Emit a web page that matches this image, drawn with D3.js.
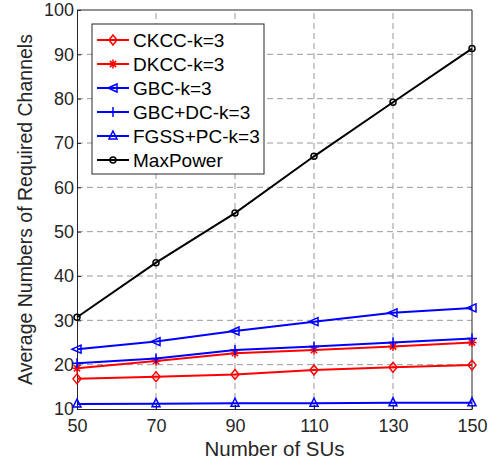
<!DOCTYPE html>
<meta charset="utf-8">
<script src="https://d3js.org/d3.v7.min.js"></script>
<style>
  body { margin: 0; background: #fff; }
  svg { font-family: "Liberation Sans", Arial, sans-serif; }
</style>
<div id="chart"></div>
<script>
    const width = 494;
    const height = 466;
    const marginTop = 10;
    const marginRight = 22;
    const marginBottom = 57;
    const marginLeft = 77;

    // data
    const suCounts = [50, 70, 90, 110, 130, 150];
    const ckcc = [16.8, 17.3, 17.8, 18.8, 19.4, 19.9];
    const dkcc = [19.2, 20.8, 22.6, 23.3, 24.1, 25.0];
    const gbc = [23.5, 25.2, 27.6, 29.7, 31.7, 32.8];
    const gbcDc = [20.3, 21.4, 23.3, 24.1, 25.0, 25.9];
    const fgssPc = [11.1, 11.2, 11.3, 11.3, 11.4, 11.4];
    const maxPower = [30.7, 43.0, 54.2, 67.0, 79.2, 91.3];
    const xTicks = [50, 70, 90, 110, 130, 150];
    const yTicks = [10, 20, 30, 40, 50, 60, 70, 80, 90, 100];

    const series = [
        { name: "CKCC-k=3", values: ckcc, color: "#ff0000", marker: "diamond" },
        { name: "DKCC-k=3", values: dkcc, color: "#ff0000", marker: "asterisk" },
        { name: "GBC-k=3", values: gbc, color: "#0000ff", marker: "triLeft" },
        { name: "GBC+DC-k=3", values: gbcDc, color: "#0000ff", marker: "plus" },
        { name: "FGSS+PC-k=3", values: fgssPc, color: "#0000ff", marker: "triUp" },
        { name: "MaxPower", values: maxPower, color: "#000000", marker: "circle" }
    ];

    const svg = d3.select("#chart")
        .append("svg")
        .attr("width", width)
        .attr("height", height);

    const x = d3.scaleLinear()
        .domain([50, 150])
        .range([marginLeft, width - marginRight]);

    const y = d3.scaleLinear()
        .domain([10, 100])
        .range([height - marginBottom, marginTop]);

    // grid
    const grid = svg.append("g")
        .attr("stroke", "#999999")
        .attr("stroke-width", 1)
        .attr("stroke-dasharray", "6,4");
    grid.selectAll("line.gx")
        .data(xTicks.slice(1, -1))
        .join("line")
        .attr("x1", d => x(d)).attr("x2", d => x(d))
        .attr("y1", y(10)).attr("y2", y(100));
    grid.selectAll("line.gy")
        .data(yTicks.slice(1, -1))
        .join("line")
        .attr("class", "gy")
        .attr("x1", x(50)).attr("x2", x(150))
        .attr("y1", d => y(d)).attr("y2", d => y(d));

    // axes
    const tickColor = "#262626";
    svg.append("g")
        .attr("transform", `translate(0,${y(10)})`)
        .call(d3.axisBottom(x).tickValues(xTicks).tickSizeInner(-4).tickSizeOuter(0).tickPadding(10))
        .call(g => g.selectAll("text").attr("font-size", 18).attr("fill", tickColor).attr("font-family", null))
        .call(g => g.selectAll("line, path").attr("stroke", tickColor));

    svg.append("g")
        .attr("transform", `translate(${x(50)},0)`)
        .call(d3.axisLeft(y).tickValues(yTicks).tickSizeInner(-4).tickSizeOuter(0).tickPadding(3))
        .call(g => g.selectAll("text").attr("font-size", 18).attr("fill", tickColor).attr("font-family", null))
        .call(g => g.selectAll("line, path").attr("stroke", tickColor));

    // top and right box
    svg.append("path")
        .attr("fill", "none")
        .attr("stroke", tickColor)
        .attr("d", `M${x(50)},${y(100)}H${x(150)}V${y(10)}`);

    // axis titles
    svg.append("text")
        .attr("x", (x(50) + x(150)) / 2)
        .attr("y", height - 10)
        .attr("text-anchor", "middle")
        .attr("font-size", 20.5)
        .attr("fill", tickColor)
        .text("Number of SUs");

    svg.append("text")
        .attr("transform", `translate(32,${(y(10) + y(100)) / 2}) rotate(-90)`)
        .attr("text-anchor", "middle")
        .attr("font-size", 19.5)
        .attr("fill", tickColor)
        .text("Average Numbers of Required Channels");

    function drawMarker(g, type, color) {
        const s = 4;
        if (type === "circle") {
            g.append("circle").attr("r", 3).attr("fill", "none").attr("stroke", color).attr("stroke-width", 1.5);
        } else if (type === "diamond") {
            g.append("path").attr("d", `M0,${-s - 1}L${s},0L0,${s + 1}L${-s},0Z`)
                .attr("fill", "none").attr("stroke", color).attr("stroke-width", 1.5);
        } else if (type === "triLeft") {
            g.append("path").attr("d", `M${-s - 1},0L${s},${-s}L${s},${s}Z`)
                .attr("fill", "none").attr("stroke", color).attr("stroke-width", 1.5);
        } else if (type === "triUp") {
            g.append("path").attr("d", `M0,${-s - 1}L${s},${s - 1}L${-s},${s - 1}Z`)
                .attr("fill", "none").attr("stroke", color).attr("stroke-width", 1.5);
        } else if (type === "plus") {
            g.append("path").attr("d", `M${-s - 1},0H${s + 1}M0,${-s - 1}V${s + 1}`)
                .attr("stroke", color).attr("stroke-width", 1.5);
        } else if (type === "asterisk") {
            const r = s + 0.5, q = r * 0.7;
            g.append("path").attr("d", `M${-r},0H${r}M0,${-r}V${r}M${-q},${-q}L${q},${q}M${-q},${q}L${q},${-q}`)
                .attr("stroke", color).attr("stroke-width", 1.5);
        }
    }

    const line = d3.line()
        .x((d, i) => x(suCounts[i]))
        .y(d => y(d));

    series.forEach(s => {
        svg.append("path")
            .datum(s.values)
            .attr("fill", "none")
            .attr("stroke", s.color)
            .attr("stroke-width", 2)
            .attr("d", line);
        s.values.forEach((v, i) => {
            const g = svg.append("g").attr("transform", `translate(${x(suCounts[i])},${y(v)})`);
            drawMarker(g, s.marker, s.color);
        });
    });

    // legend
    const legend = svg.append("g").attr("transform", "translate(92,24)");
    legend.append("rect")
        .attr("width", 172)
        .attr("height", 150)
        .attr("fill", "#fff")
        .attr("stroke", tickColor);
    series.forEach((s, i) => {
        const ly = 16 + i * 24;
        legend.append("line")
            .attr("x1", 5).attr("x2", 37)
            .attr("y1", ly).attr("y2", ly)
            .attr("stroke", s.color)
            .attr("stroke-width", 2);
        drawMarker(legend.append("g").attr("transform", `translate(21,${ly})`), s.marker, s.color);
        legend.append("text")
            .attr("x", 41)
            .attr("y", ly)
            .attr("dy", "0.35em")
            .attr("font-size", 19)
            .attr("fill", "#000")
            .text(s.name);
    });
</script>
